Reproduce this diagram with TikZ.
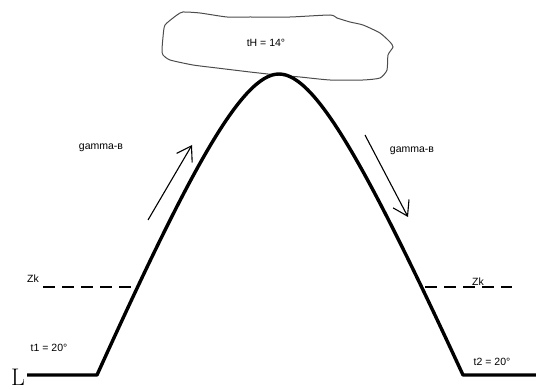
\documentclass[tikz,border=0pt]{standalone}
\usepackage{fontspec}
\newfontfamily\paintfont{Liberation Sans}
\usetikzlibrary{arrows.meta}

\begin{document}
\begin{tikzpicture}[
    x=1pt, y=-1pt,
    hill/.style={draw, line width=3.4pt, line join=round},
    flow/.style={draw, line width=1.1pt, -{Straight Barb[length=14pt, width=18pt, line width=1.1pt]}},
    zkline/.style={draw, line width=1.5pt, dash pattern=on 12pt off 7pt},
    cloud/.style={draw=black!70, line width=1pt},
    tag/.style={font=\paintfont\fontsize{10.5}{12}\selectfont, inner sep=0pt},
]
\useasboundingbox (0,0) rectangle (536,390);

\coordinate (lend) at (27,375);
\coordinate (lfoot) at (97,375);
\coordinate (top) at (279,74);
\coordinate (rfoot) at (463,375);
\coordinate (rend) at (536,375);

\draw[cloud] plot[smooth cycle, tension=0.35] coordinates {
    (165,25) (177,15) (183,12) (200,13) (227,17) (250,17) (290,17) (330,15)
    (337,18) (350,22) (363,25) (380,33) (390,42) (393,47) (388,55) (387,70)
    (380,78) (363,80) (330,80) (300,77) (277,75) (250,72) (217,68) (193,65)
    (170,60) (163,55) (162,50) (163,37)};
\node[tag] (tH) at (266,43) {tH = 14°};

\draw[hill] (lend) -- (lfoot)
    .. controls (190,170) and (242,74) .. (top)
    .. controls (316,74) and (368,170) .. (rfoot) -- (rend);

\coordinate (ga) at (148,220);
\coordinate (gb) at (192,145);
\coordinate (gc) at (365,135);
\coordinate (gd) at (408,217);
\draw[flow] (ga) -- (gb);
\draw[flow] (gc) -- (gd);
\node[tag] (gl) at (101,148) {gamma-в};
\node[tag] (gr) at (412,151) {gamma-в};

\coordinate (zl1) at (43,287);
\coordinate (zl2) at (137,287);
\coordinate (zr1) at (425,287);
\coordinate (zr2) at (512,287);
\draw[zkline] (zl1) -- (zl2);
\draw[zkline] (zr1) -- (zr2);
\node[tag] (zkl) at (33,279) {Zk};
\node[tag] (zkr) at (478,282) {Zk};

\node[tag] (t1) at (49,348) {t1 = 20°};
\node[tag] (t2) at (492,362) {t2 = 20°};
\node[inner sep=0pt, font=\fontsize{24}{24}\selectfont, anchor=base] (Lmark) at (18,385) {L};
\end{tikzpicture}
\end{document}
